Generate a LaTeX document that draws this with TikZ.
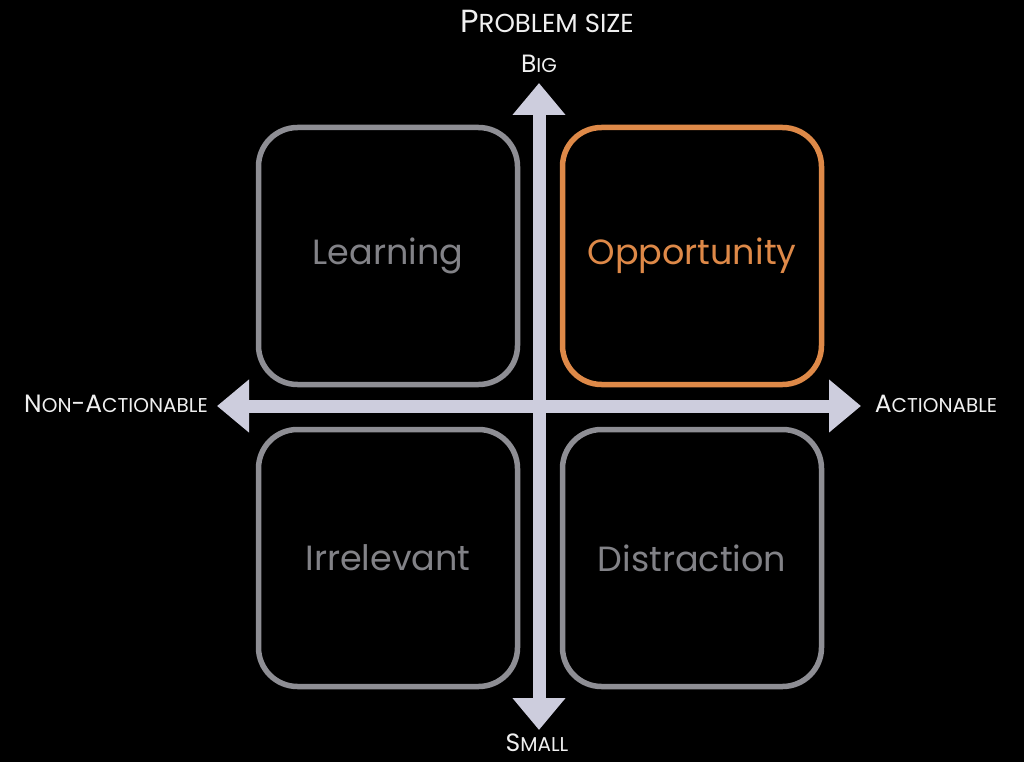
\documentclass[tikz,border=0pt]{standalone}
\usepackage{fontspec}
\setmainfont{Poppins}
\usetikzlibrary{arrows.meta}
\definecolor{axiscol}{RGB}{205,205,221}
\definecolor{boxgray}{RGB}{142,142,148}
\definecolor{textgray}{RGB}{130,130,135}
\definecolor{oppcol}{RGB}{222,137,72}
\definecolor{labelcol}{RGB}{240,240,240}
\newcommand\lowa[1]{{\fontsize{20pt}{20pt}\selectfont #1}}
\newcommand\lowb[1]{{\fontsize{26pt}{26pt}\selectfont #1}}
\tikzset{
  quad/.style={draw=boxgray, text=textgray, line width=5.5pt, rounded corners=39pt,
    minimum width=259pt, minimum height=257pt, inner sep=0pt,
    font=\fontsize{35pt}{35pt}\selectfont},
  axislabel/.style={text=labelcol, anchor=base, inner sep=0pt,
    font=\fontsize{25pt}{25pt}\selectfont},
  axis/.style={draw=axiscol, line width=13pt,
    {Triangle[width=51pt,length=32pt]}-{Triangle[width=51pt,length=32pt]}}
}
\begin{document}
\begin{tikzpicture}[x=1pt,y=-1pt]
\fill[black] (0,0) rectangle (1024,762);
\useasboundingbox (0,0) rectangle (1024,762);
% quadrants
\node[quad] (learn) at (388,256) {Learning};
\node[quad, draw=oppcol, text=oppcol] (opp) at (692,256) {Opportunity};
\node[quad] (irr) at (388,558) {Irrelevant};
\node[quad] (dist) at (692,558) {Distraction};
% axes
\coordinate (ytop) at (539,83);
\coordinate (ybot) at (539,730);
\coordinate (xleft) at (217,406);
\coordinate (xright) at (861,406);
\draw[axis] (xleft) -- (xright);
\draw[axis] (ybot) -- (ytop);
% labels
\node[axislabel, font=\fontsize{32pt}{32pt}\selectfont] (title) at (547,33) {P\lowb{ROBLEM SIZE}};
\node[axislabel] (big) at (539,73) {B\lowa{IG}};
\node[axislabel] (small) at (537,751) {S\lowa{MALL}};
\node[axislabel] (nonact) at (116,412) {N\lowa{ON}-A\lowa{CTIONABLE}};
\node[axislabel] (act) at (936,412) {A\lowa{CTIONABLE}};
\end{tikzpicture}
\end{document}
